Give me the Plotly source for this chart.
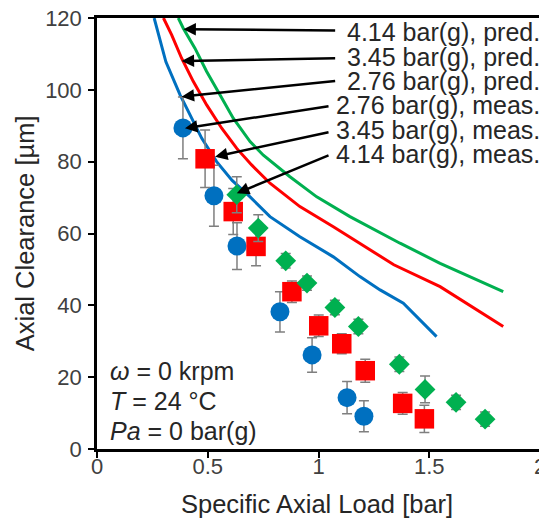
import plotly.graph_objects as go

# ---------------- data ----------------
# predicted curves
pred_276_x = [0.258, 0.311, 0.375, 0.420, 0.473, 0.540, 0.610, 0.691, 0.781, 0.916, 1.067, 1.187, 1.278, 1.383, 1.533]
pred_276_y = [120, 107.8, 98.6, 93.0, 86.5, 80.0, 74.8, 70.2, 64.7, 59.1, 53.5, 48.0, 44.3, 40.6, 31.3]

pred_345_x = [0.300, 0.337, 0.382, 0.435, 0.495, 0.563, 0.631, 0.698, 0.781, 0.916, 1.067, 1.218, 1.340, 1.549, 1.834]
pred_345_y = [120, 115.3, 108.8, 102.3, 95.8, 89.3, 83.7, 79.1, 74.0, 67.5, 61.9, 56.0, 51.3, 45.2, 34.1]

pred_414_x = [0.367, 0.390, 0.442, 0.495, 0.555, 0.615, 0.691, 0.751, 0.871, 0.992, 1.142, 1.293, 1.368, 1.549, 1.834]
pred_414_y = [120, 117.1, 111.6, 105.1, 98.6, 92.1, 85.6, 81.8, 75.8, 70.2, 64.7, 59.6, 57.3, 51.7, 43.8]

# measured points
meas_276_x = [0.388, 0.528, 0.632, 0.826, 0.971, 1.129, 1.205]
meas_276_y = [89.4, 70.5, 56.5, 38.2, 26.2, 14.3, 9.1]
meas_276_e = [8.6, 8.5, 6.5, 5.6, 4.8, 4.5, 4.3]

meas_345_x = [0.488, 0.615, 0.718, 0.880, 1.001, 1.105, 1.211, 1.380, 1.478]
meas_345_y = [80.8, 66.1, 56.4, 43.8, 34.3, 29.3, 21.8, 12.7, 8.4]
meas_345_e = [8.0, 6.4, 5.4, 3.0, 3.0, 2.8, 3.2, 3.0, 3.8]

meas_414_x = [0.631, 0.728, 0.852, 0.948, 1.074, 1.180, 1.365, 1.481, 1.621, 1.752]
meas_414_y = [70.8, 61.5, 52.4, 46.2, 39.4, 34.1, 23.6, 16.6, 13.0, 8.3]
meas_414_e = [5.0, 3.7, 2.0, 2.0, 2.0, 2.0, 2.0, 3.7, 2.0, 2.0]

# labels and where their arrows point (tip) / start (tail)
labels = ["4.14 bar(g), pred.", "3.45 bar(g), pred.", "2.76 bar(g), pred.",
          "2.76 bar(g), meas.", "3.45 bar(g), meas.", "4.14 bar(g), meas."]
tip_x = [0.390, 0.382, 0.382, 0.397, 0.533, 0.631]
tip_y = [116.9, 108.0, 98.1, 89.3, 81.4, 71.2]
tail_x = [1.082, 1.082, 1.082, 1.052, 1.052, 1.052]
tail_y = [116.5, 108.8, 102.5, 95.5, 88.3, 81.9]
label_y = [116.1, 109.2, 102.5, 95.8, 88.9, 82.2]

cond_lines = ["<i>ω</i> = 0 krpm", "<i>T</i> = 24 °C", "<i>Pa</i> = 0 bar(g)"]
cond_y = [21.7, 13.4, 5.0]

x_ticks = [0, 0.5, 1, 1.5, 2]
x_ticktext = ["0", "0.5", "1", "1.5", "2"]
y_ticks = [0, 20, 40, 60, 80, 100, 120]

BLUE, RED, GREEN = "#0070C0", "#FF0000", "#00B050"
FONT = "Liberation Sans, Arial, sans-serif"
TXT = "#262626"

fig = go.Figure()

for xs, ys, c in [(pred_276_x, pred_276_y, BLUE), (pred_345_x, pred_345_y, RED), (pred_414_x, pred_414_y, GREEN)]:
    fig.add_trace(go.Scatter(x=xs, y=ys, mode="lines", line=dict(color=c, width=3),
                             showlegend=False, hoverinfo="skip"))

for xs, ys, es, c, sym, sz in [
    (meas_276_x, meas_276_y, meas_276_e, BLUE, "circle", 19),
    (meas_345_x, meas_345_y, meas_345_e, RED, "square", 19.5),
    (meas_414_x, meas_414_y, meas_414_e, GREEN, "diamond", 16),
]:
    fig.add_trace(go.Scatter(
        x=xs, y=ys, mode="markers",
        marker=dict(color=c, symbol=sym, size=sz, line=dict(width=0)),
        error_y=dict(type="data", array=es, visible=True, color="#7f7f7f", thickness=1.5, width=5),
        showlegend=False))

annotations = []
for i, lab in enumerate(labels):
    annotations.append(dict(x=tip_x[i], y=tip_y[i], xref="x", yref="y",
                            ax=tail_x[i], ay=tail_y[i], axref="x", ayref="y",
                            text="", showarrow=True, arrowhead=2, arrowsize=1.0,
                            arrowwidth=2.5, arrowcolor="black", standoff=0))
    annotations.append(dict(x=1.004, y=label_y[i] / 120, xref="paper", yref="paper",
                            text=lab, showarrow=False, xanchor="right", yanchor="middle",
                            font=dict(family=FONT, size=25, color=TXT)))

for t, yy in zip(cond_lines, cond_y):
    annotations.append(dict(x=0.024, y=yy / 120, xref="paper", yref="paper",
                            text=t, showarrow=False, xanchor="left", yanchor="middle",
                            font=dict(family=FONT, size=25, color=TXT)))

annotations.append(dict(x=0.497, y=-0.128, xref="paper", yref="paper",
                        text="Specific Axial Load [bar]", showarrow=False,
                        xanchor="center", yanchor="middle",
                        font=dict(family=FONT, size=25.5, color=TXT)))
annotations.append(dict(x=-0.163, y=0.5, xref="paper", yref="paper",
                        text="Axial Clearance [µm]", showarrow=False, textangle=-90,
                        xanchor="center", yanchor="middle",
                        font=dict(family=FONT, size=25.5, color=TXT)))

axis_common = dict(showgrid=False, zeroline=False, automargin=False)
fig.update_layout(
    width=547, height=527,
    margin=dict(l=89, r=15, t=10, b=86, autoexpand=False),
    paper_bgcolor="white", plot_bgcolor="white",
    showlegend=False,
    annotations=annotations,
    xaxis=dict(range=[0, 2], tickvals=x_ticks, ticktext=x_ticktext, ticks="outside", ticklen=6,
               tickwidth=1.5, tickcolor="black", showline=True, linecolor="black", linewidth=2.5,
               mirror=True, ticklabelstandoff=-10, ticklabeloverflow="allow",
               tickfont=dict(family=FONT, size=22, color="#404040"), **axis_common),
    yaxis=dict(range=[0, 120], tickvals=y_ticks, ticks="outside", ticklen=6,
               tickwidth=1.5, tickcolor="black", showline=True, linecolor="black", linewidth=2.5,
               mirror=True, ticklabelstandoff=2, ticklabeloverflow="allow",
               tickfont=dict(family=FONT, size=22, color="#404040"), **axis_common),
    xaxis2=dict(range=[0, 2], tickvals=x_ticks, ticks="inside", ticklen=6, tickwidth=1.5,
                tickcolor="black", showticklabels=False, overlaying="x", anchor="y",
                showline=False, **axis_common),
    yaxis2=dict(range=[0, 120], tickvals=y_ticks, ticks="inside", ticklen=6, tickwidth=1.5,
                tickcolor="black", showticklabels=False, overlaying="y", anchor="x",
                showline=False, **axis_common),
)

fig.write_html("out.html")
